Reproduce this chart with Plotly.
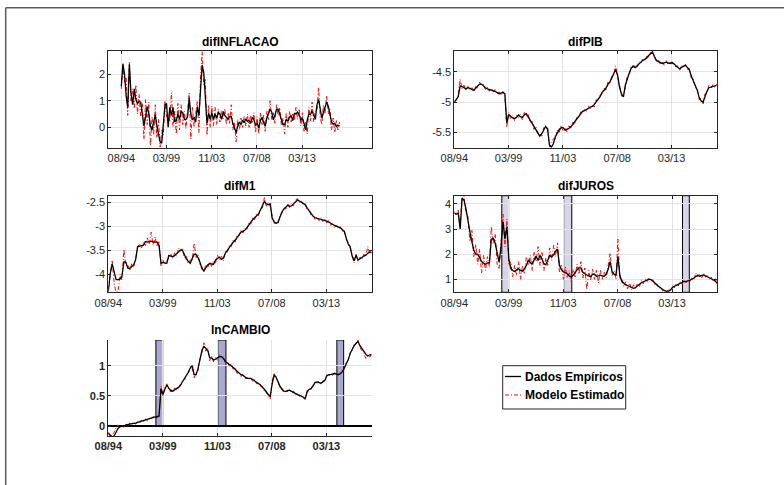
import plotly.graph_objects as go
import pandas as pd

# ---------------- data ----------------
dates = pd.date_range("1994-08-01", periods=136, freq="2MS")

tick_vals = ["1994-08-01", "1999-03-29", "2003-11-25", "2008-07-22", "2013-03-19"]
tick_text = ["08/94", "03/99", "11/03", "07/08", "03/13"]

bar_starts = ["1998-08-25", "2003-12-10", "2014-02-10"]
bar_ends = ["1999-03-25", "2004-08-20", "2014-09-10"]

infl_emp = [
    1.55, 2.40, 2.00, 1.16, 0.75, 2.38, 1.30, 0.85, 1.45, 1.05,
    0.90, 0.97, 0.95, 0.50, 0.05, 0.40, 0.78, 0.53, 0.05, -0.10,
    0.21, 0.47, 0.05, -0.20, -0.55, -0.60, 0.20, 0.85, 0.90, 0.00,
    0.75, 0.45, 0.75, 0.20, 0.25, 0.50, 0.30, 0.60, 0.55, 0.30,
    0.30, 0.40, 1.10, 0.50, 0.28, 0.38, 0.20, 0.75, 0.45, 1.50,
    2.35, 2.05, 1.15, 0.15, 0.53, 0.30, 0.55, 0.30, 0.50, 0.35,
    0.55, 0.50, 0.30, 0.60, 0.45, 0.36, 0.30, 0.40, 0.40, 0.15,
    -0.05, -0.20, 0.05, 0.20, 0.10, 0.27, 0.17, 0.32, 0.22, 0.26,
    0.15, 0.38, 0.28, 0.09, 0.15, -0.02, 0.25, 0.38, 0.18, 0.04,
    0.35, 0.50, 0.68, 0.58, 0.28, 0.45, 0.68, 0.68, 0.50, 0.30,
    0.10, 0.10, 0.30, 0.22, 0.38, 0.45, 0.25, 0.52, 0.50, 0.57,
    0.47, 0.28, 0.34, 0.15, -0.10, 0.28, 0.50, 0.48, 0.62, 0.45,
    0.30, 0.85, 1.05, 0.70, 0.35, 0.55, 0.80, 0.95, 0.80, 0.45,
    0.20, 0.12, 0.15, 0.03, 0.08, 0.05]
infl_mod = [
    1.45, 2.30, 1.70, 1.90, 0.45, 2.45, 1.00, 1.45, 0.70, 1.60,
    0.50, 1.25, 0.40, 0.90, -0.45, 1.05, 0.10, 0.95, -0.70, 0.40,
    -0.30, 0.85, -0.40, 0.30, -0.75, -0.10, -0.30, 1.00, 0.40, 0.50,
    0.20, 1.30, 0.00, 0.60, -0.25, 0.90, -0.10, 0.85, 0.10, 0.60,
    -0.05, 0.70, 1.30, -0.45, 0.75, 0.00, 0.60, 1.00, -0.20, 1.90,
    2.85, 1.60, 1.80, -0.30, 0.85, 0.00, 0.80, 0.05, 0.75, 0.10,
    0.70, 0.20, 0.65, 0.30, 0.70, 0.10, 0.55, 0.15, 0.85, -0.10,
    0.20, -0.55, 0.30, -0.10, 0.35, 0.00, 0.40, 0.05, 0.50, 0.00,
    0.45, 0.15, 0.55, -0.20, 0.40, -0.25, 0.55, 0.10, 0.45, -0.15,
    0.60, 0.30, 1.00, 0.30, 0.55, 0.15, 0.85, 0.45, 0.75, 0.05,
    0.35, -0.25, 0.55, 0.00, 0.60, 0.20, 0.50, 0.25, 0.75, 0.30,
    0.70, 0.05, 0.55, -0.15, 0.20, -0.25, 0.75, 0.25, 0.95, 0.20,
    0.60, 0.60, 1.50, 0.40, 0.10, 0.85, 0.50, 1.20, 0.50, 0.70,
    -0.10, 0.35, -0.20, 0.25, -0.10, 0.20]

pib_emp = [
    -5.00, -4.95, -4.91, -4.73, -4.74, -4.76, -4.78, -4.76, -4.77, -4.79,
    -4.80, -4.77, -4.73, -4.70, -4.70, -4.74, -4.76, -4.78, -4.79, -4.80,
    -4.80, -4.82, -4.84, -4.86, -4.85, -4.84, -4.86, -5.35, -5.20, -5.23,
    -5.26, -5.27, -5.25, -5.21, -5.24, -5.25, -5.21, -5.19, -5.24, -5.30,
    -5.35, -5.41, -5.45, -5.50, -5.56, -5.52, -5.46, -5.40, -5.45, -5.71,
    -5.74, -5.68, -5.57, -5.50, -5.45, -5.42, -5.42, -5.46, -5.45, -5.43,
    -5.40, -5.37, -5.32, -5.28, -5.23, -5.19, -5.15, -5.14, -5.12, -5.09,
    -5.08, -5.07, -5.04, -4.99, -4.95, -4.91, -4.84, -4.80, -4.77, -4.71,
    -4.67, -4.60, -4.53, -4.46, -4.55, -4.75, -4.86, -4.91, -4.72, -4.60,
    -4.52, -4.44, -4.40, -4.43, -4.40, -4.36, -4.33, -4.31, -4.29, -4.27,
    -4.23, -4.20, -4.17, -4.25, -4.31, -4.33, -4.35, -4.36, -4.35, -4.34,
    -4.35, -4.36, -4.34, -4.37, -4.39, -4.43, -4.45, -4.42, -4.40, -4.39,
    -4.43, -4.47, -4.57, -4.65, -4.72, -4.80, -4.92, -4.98, -5.00, -4.90,
    -4.82, -4.76, -4.75, -4.74, -4.73, -4.72]
pib_mod = [
    -4.98, -4.97, -4.88, -4.62, -4.78, -4.72, -4.80, -4.74, -4.80, -4.76,
    -4.83, -4.74, -4.76, -4.67, -4.72, -4.71, -4.79, -4.75, -4.82, -4.77,
    -4.83, -4.79, -4.87, -4.83, -4.88, -4.82, -4.89, -5.40, -5.17, -5.27,
    -5.22, -5.30, -5.21, -5.25, -5.20, -5.29, -5.17, -5.23, -5.20, -5.34,
    -5.31, -5.45, -5.40, -5.55, -5.52, -5.56, -5.42, -5.44, -5.40, -5.74,
    -5.68, -5.60, -5.63, -5.46, -5.50, -5.38, -5.47, -5.42, -5.49, -5.39,
    -5.44, -5.33, -5.36, -5.25, -5.26, -5.16, -5.18, -5.11, -5.15, -5.06,
    -5.11, -5.04, -5.08, -4.96, -4.98, -4.88, -4.87, -4.77, -4.80, -4.67,
    -4.70, -4.57, -4.56, -4.40, -4.58, -4.70, -4.90, -4.87, -4.76, -4.56,
    -4.56, -4.41, -4.43, -4.39, -4.44, -4.33, -4.36, -4.28, -4.32, -4.24,
    -4.26, -4.18, -4.20, -4.22, -4.34, -4.30, -4.38, -4.33, -4.39, -4.31,
    -4.38, -4.33, -4.37, -4.34, -4.42, -4.40, -4.48, -4.39, -4.43, -4.37,
    -4.46, -4.44, -4.61, -4.62, -4.76, -4.77, -4.96, -4.94, -5.03, -4.86,
    -4.86, -4.72, -4.78, -4.71, -4.76, -4.70]

m1_emp = [
    -4.36, -3.98, -3.78, -3.99, -4.11, -4.11, -4.10, -4.04, -3.74, -3.75,
    -3.87, -3.88, -3.84, -3.80, -3.70, -3.42, -3.41, -3.40, -3.39, -3.32,
    -3.33, -3.32, -3.31, -3.33, -3.33, -3.33, -3.40, -3.77, -3.75, -3.76,
    -3.77, -3.61, -3.62, -3.63, -3.61, -3.57, -3.53, -3.49, -3.50, -3.60,
    -3.68, -3.73, -3.77, -3.67, -3.58, -3.59, -3.65, -3.75, -3.88, -3.93,
    -3.86, -3.80, -3.78, -3.78, -3.79, -3.70, -3.66, -3.64, -3.69, -3.66,
    -3.56, -3.50, -3.44, -3.38, -3.33, -3.29, -3.23, -3.17, -3.12, -3.10,
    -3.08, -3.03, -2.97, -2.92, -2.86, -2.82, -2.78, -2.74, -2.66, -2.58,
    -2.48, -2.53, -2.55, -2.53, -2.83, -2.90, -2.94, -2.91, -2.80, -2.70,
    -2.64, -2.60, -2.56, -2.58, -2.57, -2.53, -2.49, -2.45, -2.47, -2.50,
    -2.51, -2.55, -2.62, -2.68, -2.74, -2.79, -2.82, -2.83, -2.84, -2.85,
    -2.86, -2.88, -2.89, -2.91, -2.94, -2.96, -2.98, -3.00, -3.02, -3.03,
    -3.07, -3.11, -3.25, -3.37, -3.42, -3.62, -3.72, -3.60, -3.70, -3.68,
    -3.65, -3.62, -3.60, -3.56, -3.54, -3.54]
m1_mod = [
    -4.30, -4.05, -3.72, -4.20, -4.37, -4.36, -4.00, -4.12, -3.48, -3.82,
    -3.80, -3.92, -3.78, -3.86, -3.64, -3.45, -3.36, -3.45, -3.33, -3.40,
    -3.24, -3.38, -3.12, -3.40, -3.22, -3.42, -3.30, -3.82, -3.70, -3.80,
    -3.72, -3.66, -3.57, -3.68, -3.55, -3.62, -3.45, -3.52, -3.45, -3.66,
    -3.62, -3.78, -3.70, -3.72, -3.35, -3.65, -3.58, -3.80, -3.84, -3.95,
    -3.80, -3.86, -3.74, -3.84, -3.72, -3.76, -3.60, -3.70, -3.62, -3.72,
    -3.52, -3.54, -3.40, -3.42, -3.29, -3.33, -3.19, -3.20, -3.08, -3.14,
    -3.04, -3.07, -2.93, -2.96, -2.82, -2.86, -2.74, -2.78, -2.62, -2.62,
    -2.40, -2.58, -2.50, -2.58, -2.78, -2.94, -2.90, -2.95, -2.76, -2.73,
    -2.60, -2.64, -2.52, -2.62, -2.53, -2.57, -2.45, -2.42, -2.50, -2.47,
    -2.55, -2.52, -2.66, -2.64, -2.78, -2.75, -2.86, -2.80, -2.88, -2.82,
    -2.90, -2.84, -2.93, -2.87, -2.98, -2.92, -3.02, -2.97, -3.05, -3.01,
    -3.10, -3.08, -3.28, -3.34, -3.46, -3.58, -3.76, -3.56, -3.73, -3.64,
    -3.68, -3.58, -3.63, -3.42, -3.58, -3.50]

juros_emp = [
    3.63, 3.60, 3.63, 3.00, 4.24, 4.15, 3.80, 3.25, 2.90, 2.50,
    2.15, 2.00, 2.00, 1.86, 1.70, 1.64, 1.60, 1.65, 1.65, 2.60,
    2.63, 2.43, 2.05, 1.68, 2.30, 3.30, 2.60, 3.10, 1.80, 1.42,
    1.35, 1.31, 1.38, 1.42, 1.35, 1.32, 1.42, 1.55, 1.77, 1.65,
    1.62, 1.75, 1.92, 1.75, 1.95, 1.80, 1.63, 1.58, 1.80, 1.95,
    1.90, 1.97, 2.12, 2.20, 1.55, 1.38, 1.30, 1.27, 1.22, 1.13,
    1.08, 1.16, 1.28, 1.37, 1.45, 1.45, 1.28, 1.22, 1.17, 1.14,
    1.10, 1.20, 1.20, 1.11, 1.14, 1.17, 1.13, 1.12, 1.20, 1.40,
    1.70, 1.30, 1.20, 1.17, 1.90, 1.15, 0.91, 0.82, 0.77, 0.75,
    0.72, 0.68, 0.64, 0.67, 0.72, 0.79, 0.86, 0.90, 0.94, 0.97,
    1.00, 0.99, 0.93, 0.85, 0.77, 0.70, 0.63, 0.59, 0.55, 0.52,
    0.53, 0.57, 0.67, 0.73, 0.76, 0.80, 0.84, 0.87, 0.91, 0.91,
    0.93, 0.97, 1.00, 1.05, 1.13, 1.17, 1.12, 1.14, 1.17, 1.13,
    1.10, 1.06, 1.02, 0.98, 0.92, 0.84]
juros_mod = [
    3.70, 3.55, 3.75, 3.20, 4.20, 4.30, 3.60, 3.50, 2.50, 2.95,
    1.90, 2.40, 1.60, 2.20, 1.25, 1.95, 1.35, 1.90, 1.50, 3.10,
    2.40, 2.80, 1.60, 1.40, 2.50, 3.60, 2.30, 3.40, 1.55, 1.70,
    1.10, 1.55, 1.15, 1.70, 1.00, 1.55, 1.20, 1.90, 1.55, 1.95,
    1.35, 2.10, 1.70, 2.30, 1.55, 2.10, 1.35, 1.85, 1.55, 2.25,
    1.75, 2.35, 1.90, 2.45, 1.25, 1.60, 1.00, 1.50, 1.05, 1.35,
    0.90, 1.40, 1.10, 1.60, 1.20, 1.70, 1.05, 1.45, 0.60, 1.35,
    0.95, 1.40, 1.00, 1.35, 0.85, 1.35, 1.00, 1.30, 1.05, 1.55,
    2.05, 1.15, 1.35, 1.00, 2.60, 1.00, 1.05, 0.70, 0.90, 0.62,
    0.85, 0.58, 0.78, 0.60, 0.84, 0.70, 0.95, 0.82, 1.00, 0.90,
    1.06, 0.93, 0.98, 0.78, 0.82, 0.64, 0.68, 0.54, 0.60, 0.50,
    0.58, 0.55, 0.74, 0.66, 0.84, 0.73, 0.92, 0.80, 0.98, 0.86,
    1.00, 0.90, 1.08, 0.98, 1.25, 1.10, 1.22, 1.05, 1.24, 1.08,
    1.18, 1.00, 1.08, 0.92, 1.02, 0.80]

cambio_emp = [
    -0.12, -0.16, -0.18, -0.16, -0.09, -0.04, -0.01, -0.01, 0.00, 0.02,
    0.02, 0.03, 0.04, 0.04, 0.05, 0.06, 0.07, 0.08, 0.09, 0.10,
    0.10, 0.11, 0.12, 0.14, 0.15, 0.15, 0.17, 0.62, 0.52, 0.61,
    0.68, 0.63, 0.58, 0.58, 0.60, 0.62, 0.64, 0.68, 0.73, 0.78,
    0.82, 0.89, 0.96, 1.00, 0.85, 0.85, 0.95, 1.10, 1.25, 1.32,
    1.28, 1.25, 1.13, 1.13, 1.09, 1.11, 1.12, 1.15, 1.15, 1.12,
    1.07, 1.04, 1.02, 1.00, 0.97, 0.94, 0.90, 0.87, 0.85, 0.84,
    0.81, 0.79, 0.79, 0.79, 0.77, 0.75, 0.73, 0.70, 0.68, 0.64,
    0.61, 0.56, 0.52, 0.49, 0.70, 0.84, 0.81, 0.72, 0.66, 0.61,
    0.58, 0.57, 0.59, 0.59, 0.57, 0.56, 0.54, 0.52, 0.51, 0.49,
    0.48, 0.46, 0.57, 0.61, 0.62, 0.68, 0.72, 0.73, 0.72, 0.71,
    0.73, 0.76, 0.83, 0.85, 0.85, 0.86, 0.87, 0.86, 0.85, 0.87,
    0.90, 0.96, 1.02, 1.10, 1.20, 1.27, 1.33, 1.37, 1.40, 1.33,
    1.28, 1.24, 1.19, 1.16, 1.18, 1.18]
cambio_mod = [
    -0.10, -0.18, -0.15, -0.10, -0.03, 0.02, -0.03, 0.01, -0.02, 0.03,
    0.00, 0.05, 0.02, 0.06, 0.03, 0.08, 0.05, 0.10, 0.07, 0.12,
    0.09, 0.13, 0.11, 0.16, 0.13, 0.17, 0.15, 0.66, 0.50, 0.64,
    0.70, 0.60, 0.61, 0.55, 0.63, 0.60, 0.66, 0.66, 0.75, 0.76,
    0.85, 0.86, 0.99, 0.95, 0.80, 0.88, 0.92, 1.13, 1.22, 1.38,
    1.24, 1.30, 1.08, 1.16, 1.06, 1.14, 1.09, 1.18, 1.12, 1.15,
    1.04, 1.07, 0.99, 1.03, 0.94, 0.96, 0.87, 0.89, 0.82, 0.86,
    0.78, 0.81, 0.77, 0.80, 0.74, 0.77, 0.70, 0.72, 0.65, 0.66,
    0.58, 0.58, 0.49, 0.45, 0.74, 0.88, 0.78, 0.74, 0.63, 0.63,
    0.55, 0.59, 0.57, 0.61, 0.55, 0.58, 0.52, 0.54, 0.49, 0.51,
    0.46, 0.44, 0.59, 0.58, 0.64, 0.66, 0.74, 0.71, 0.74, 0.69,
    0.75, 0.74, 0.85, 0.82, 0.87, 0.84, 0.89, 0.84, 0.87, 0.85,
    0.92, 0.94, 1.05, 1.08, 1.22, 1.25, 1.35, 1.35, 1.42, 1.30,
    1.25, 1.20, 1.12, 1.18, 1.14, 1.20]

titles = ["difINFLACAO", "difPIB", "difM1", "difJUROS", "lnCAMBIO"]

infl_yticks = [0, 1, 2]
infl_ylabels = ["0", "1", "2"]
pib_yticks = [-5.5, -5, -4.5]
pib_ylabels = ["-5.5", "-5", "-4.5"]
m1_yticks = [-4, -3.5, -3, -2.5]
m1_ylabels = ["-4", "-3.5", "-3", "-2.5"]
juros_yticks = [1, 2, 3, 4]
juros_ylabels = ["1", "2", "3", "4"]
cambio_yticks = [0, 0.5, 1]
cambio_ylabels = ["0", "0.5", "1"]

legend_labels = ["Dados Empíricos", "Modelo Estimado"]

# ---------------- layout helpers ----------------
W, H = 784, 485

def px_x(a, b):
    return [a / W, b / W]

def px_y(top, bottom):
    return [1 - bottom / H, 1 - top / H]

panels = [
    dict(emp=infl_emp, mod=infl_mod, yr=[-0.77, 2.89], yt=infl_yticks, yl=infl_ylabels,
         xr=["1993-03-30", "2020-05-23"], dx=px_x(108.3, 371.7), dy=px_y(50.7, 147.7),
         tx=240, ty=41.5, bold=False, box=True),
    dict(emp=pib_emp, mod=pib_mod, yr=[-5.75, -4.15], yt=pib_yticks, yl=pib_ylabels,
         xr=["1994-08-01", "2017-02-01"], dx=px_x(454.3, 716.7), dy=px_y(50.7, 147.7),
         tx=585.5, ty=41.5, bold=False, box=True),
    dict(emp=m1_emp, mod=m1_mod, yr=[-4.375, -2.36], yt=m1_yticks, yl=m1_ylabels,
         xr=["1994-08-01", "2017-02-01"], dx=px_x(108.3, 371.7), dy=px_y(195.7, 292.3),
         tx=240, ty=186.5, bold=False, box=True),
    dict(emp=juros_emp, mod=juros_mod, yr=[0.48, 4.33], yt=juros_yticks, yl=juros_ylabels,
         xr=["1994-08-01", "2017-02-01"], dx=px_x(454.3, 717.3), dy=px_y(195.7, 292.3),
         tx=585.5, ty=185.5, bold=False, box=True),
    dict(emp=cambio_emp, mod=cambio_mod, yr=[-0.165, 1.425], yt=cambio_yticks, yl=cambio_ylabels,
         xr=["1994-08-01", "2017-02-01"], dx=px_x(108.3, 371.7), dy=px_y(340, 436),
         tx=240, ty=330, bold=True, box=False),
]

FONT = "Liberation Sans, Arial, Helvetica, sans-serif"
AX = "#262626"
GRID = "#e3e3e3"
RED_DASH = "4px,2px,1px,2px"

fig = go.Figure()
layout = dict(
    width=W, height=H,
    margin=dict(l=0, r=0, t=0, b=0, autoexpand=False),
    paper_bgcolor="white", plot_bgcolor="white",
    font=dict(family=FONT, size=11, color=AX),
    showlegend=False,
)
shapes = []
annotations = []

for i, p in enumerate(panels, start=1):
    xa = "x" if i == 1 else f"x{i}"
    ya = "y" if i == 1 else f"y{i}"
    fig.add_trace(go.Scatter(
        x=dates, y=p["mod"], xaxis=xa, yaxis=ya, mode="lines",
        line=dict(color="#ff0000", width=1, dash=RED_DASH),
        name=legend_labels[1]))
    fig.add_trace(go.Scatter(
        x=dates, y=p["emp"], xaxis=xa, yaxis=ya, mode="lines",
        line=dict(color="black", width=1.3),
        name=legend_labels[0]))

    tfont = dict(family=FONT, size=11, color=AX,
                 weight="bold" if p["bold"] else "normal")
    mirror = "ticks" if p["box"] else False
    layout["xaxis" if i == 1 else f"xaxis{i}"] = dict(
        domain=p["dx"], anchor=ya, type="date", range=p["xr"], automargin=False,
        tickmode="array", tickvals=tick_vals, ticktext=tick_text,
        showline=True, linecolor=AX, linewidth=1, mirror=mirror,
        ticks="inside", ticklen=3, tickcolor=AX,
        showgrid=True, gridcolor=GRID, gridwidth=1, zeroline=False,
        tickfont=tfont)
    layout["yaxis" if i == 1 else f"yaxis{i}"] = dict(
        domain=p["dy"], anchor=xa, range=p["yr"], automargin=False,
        tickmode="array", tickvals=p["yt"], ticktext=p["yl"],
        showline=True, linecolor=AX, linewidth=1, mirror=mirror,
        ticks="inside", ticklen=3, tickcolor=AX,
        showgrid=True, gridcolor=GRID, gridwidth=1,
        zeroline=not p["box"], zerolinecolor="black", zerolinewidth=1.5,
        tickfont=tfont)
    annotations.append(dict(
        text=f"<b>{titles[i-1]}</b>", x=p["tx"] / W, y=1 - p["ty"] / H,
        xref="paper", yref="paper", xanchor="center", yanchor="middle",
        showarrow=False, font=dict(family=FONT, size=12, color="black")))

# shaded periods on difJUROS (panel 4) and lnCAMBIO (panel 5)
for s, e in zip(bar_starts, bar_ends):
    shapes.append(dict(type="rect", xref="x4", yref="y4 domain",
                       x0=s, x1=e, y0=0, y1=1,
                       fillcolor="#d6d6e8", line=dict(color="black", width=1),
                       layer="below"))
    shapes.append(dict(type="rect", xref="x5", yref="y5",
                       x0=s, x1=e, y0=0, y1=panels[4]["yr"][1],
                       fillcolor="#a9a9cf", line=dict(color="black", width=1),
                       layer="below"))

# manual legend box (MATLAB style)
lx0, lx1, ly0, ly1 = 502.7, 625.7, 365.7, 409.0
shapes.append(dict(type="rect", xref="paper", yref="paper",
                   x0=lx0 / W, x1=lx1 / W, y0=1 - ly1 / H, y1=1 - ly0 / H,
                   fillcolor="white", line=dict(color=AX, width=1)))
legend_styles = [dict(color="black", width=1.3), dict(color="#ff0000", width=1, dash=RED_DASH)]
for j, (lab, sty) in enumerate(zip(legend_labels, legend_styles)):
    yy = 376.5 + j * 18.5
    shapes.append(dict(type="line", xref="paper", yref="paper",
                       x0=505 / W, x1=521 / W, y0=1 - yy / H, y1=1 - yy / H,
                       line=sty))
    annotations.append(dict(text=f"<b>{lab}</b>", x=522.5 / W, y=1 - yy / H,
                            xref="paper", yref="paper", xanchor="left", yanchor="middle",
                            showarrow=False,
                            font=dict(family=FONT, size=12, color="black")))

# outer frame (cropped figure border)
shapes.append(dict(type="line", xref="paper", yref="paper",
                   x0=5.7 / W, x1=5.7 / W, y0=0, y1=1 - 7.7 / H,
                   line=dict(color="#5a5a5a", width=1.5)))
shapes.append(dict(type="line", xref="paper", yref="paper",
                   x0=5.7 / W, x1=1, y0=1 - 7.7 / H, y1=1 - 7.7 / H,
                   line=dict(color="#5a5a5a", width=1.5)))

layout["shapes"] = shapes
layout["annotations"] = annotations
fig.update_layout(**layout)

fig.write_html("out.html")
